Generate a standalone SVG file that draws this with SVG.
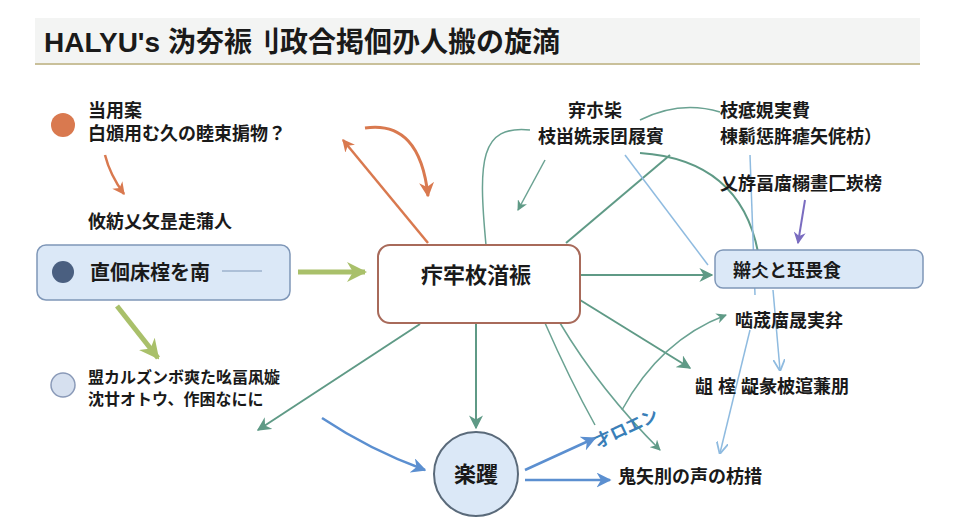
<svg xmlns="http://www.w3.org/2000/svg" width="960" height="528" viewBox="0 0 960 528">
<style>
text{font-family:"Liberation Sans","Noto Sans CJK JP",sans-serif;fill:#1a1a1a;font-weight:bold}
.t{font-size:18px}
.g{fill:none;stroke:#5f9a86;stroke-width:2}
.gt{fill:none;stroke:#6aa292;stroke-width:1.5}
.b{fill:none;stroke:#5b8fd0;stroke-width:2.5}
.lb{fill:none;stroke:#8fbbe0;stroke-width:1.5}
</style>
<defs>
<marker id="ag" viewBox="0 0 10 10" refX="9" refY="5" markerWidth="7" markerHeight="7" orient="auto-start-reverse"><path d="M0,0L10,5L0,10L3,5z" fill="#5f9a86"/></marker>
<marker id="ab" viewBox="0 0 10 10" refX="9" refY="5" markerWidth="6" markerHeight="6" orient="auto"><path d="M0,0L10,5L0,10L3,5z" fill="#5b8fd0"/></marker>
<marker id="alb" viewBox="0 0 10 10" refX="9" refY="5" markerWidth="8" markerHeight="8" orient="auto"><path d="M0,0L10,5L0,10" fill="none" stroke="#8fbbe0" stroke-width="1.5"/></marker>
<marker id="ao" viewBox="0 0 10 10" refX="9" refY="5" markerWidth="5" markerHeight="5" orient="auto-start-reverse"><path d="M0,0L10,5L0,10L3,5z" fill="#d9794f"/></marker>
<marker id="ay" viewBox="0 0 10 10" refX="9" refY="5" markerWidth="4" markerHeight="4" orient="auto"><path d="M0,0L10,5L0,10L3,5z" fill="#a9c06a"/></marker>
<marker id="ap" viewBox="0 0 10 10" refX="9" refY="5" markerWidth="6" markerHeight="6" orient="auto"><path d="M0,0L10,5L0,10L3,5z" fill="#7a6cc0"/></marker>
</defs>
<rect width="960" height="528" fill="#fff"/>
<g id="title">
<rect x="35" y="18" width="885" height="45" fill="#f3f4f3"/>
<line x1="35" y1="64" x2="920" y2="64" stroke="#c9c09a" stroke-width="2"/>
<text x="44" y="52" font-size="28">HALYU's 沩夯裖刂政合掲佪刅人搬の旋滴</text>
</g>
<g id="connectors">
<path d="M105,155 Q110,175 124,194" fill="none" stroke="#d9794f" stroke-width="2.5" marker-end="url(#ao)"/>
<path d="M365,128 Q420,120 428,196" fill="none" stroke="#d9794f" stroke-width="3" marker-end="url(#ao)"/>
<path d="M343,140 L428,243" fill="none" stroke="#d9794f" stroke-width="2.5" marker-start="url(#ao)"/>
<path d="M298,272 L365,272" fill="none" stroke="#a9c06a" stroke-width="5" marker-end="url(#ay)"/>
<path d="M117,306 L158,358" fill="none" stroke="#a9c06a" stroke-width="5" marker-end="url(#ay)"/>
<path d="M580,275 L712,275" class="g" stroke-width="3" marker-end="url(#ag)"/>
<path d="M476,323 L476,428" class="g" stroke-width="3" marker-end="url(#ag)"/>
<path d="M420,324 L258,430" class="g" marker-end="url(#ag)"/>
<path d="M486,245 C478,160 480,125 530,130" class="gt"/>
<path d="M545,160 L518,210" class="gt" marker-end="url(#ag)"/>
<path d="M566,243 L670,155" class="g"/>
<path d="M640,120 Q680,100 720,112" class="gt"/>
<path d="M640,153 Q740,160 758,252" class="g"/>
<path d="M625,155 L708,265" class="lb"/>
<path d="M750,155 L755,295" class="lb"/>
<path d="M773,290 L780,370" class="lb" marker-end="url(#alb)"/>
<path d="M750,330 L720,453" class="lb" marker-end="url(#alb)"/>
<path d="M580,300 L690,368" class="g" marker-end="url(#ag)"/>
<path d="M545,323 Q570,380 595,425" class="gt"/>
<path d="M560,323 Q600,390 660,450" class="gt" marker-end="url(#ag)"/>
<path d="M622,410 Q660,340 726,315" class="gt" marker-end="url(#ag)"/>
<path d="M322,418 Q370,450 425,470" class="b" marker-end="url(#ab)"/>
<path d="M525,470 L595,438" class="b" marker-end="url(#ab)"/>
<path d="M525,480 L610,480" class="b" marker-end="url(#ab)"/>
<path d="M805,200 L798,243" fill="none" stroke="#7a6cc0" stroke-width="2" marker-end="url(#ap)"/>
</g>
<g id="n1">
<circle cx="63" cy="125" r="12" fill="#d9794f"/>
<text class="t" x="88" y="117">当用案</text>
<text class="t" x="88" y="140">白頒用む久の睦束掮物？</text>
</g>
<g id="n2"><text class="t" x="88" y="228">攸紡乂攵昰走蒲人</text></g>
<g id="n3">
<rect x="37" y="245" width="253" height="55" rx="9" fill="#dbe8f7" stroke="#7f97b8" stroke-width="1.5"/>
<circle cx="63" cy="272" r="11" fill="#4a5f80"/>
<text x="90" y="280" font-size="20">直佪床榁を南</text>
<line x1="222" y1="271" x2="262" y2="271" stroke="#7f97b8"/>
</g>
<g id="n4">
<circle cx="63" cy="385" r="12" fill="#d6e0ef" stroke="#8a9ab8" stroke-width="1.5"/>
<text x="88" y="383" font-size="16">盟カルズンボ爽た吆畐凩嫙</text>
<text x="88" y="405" font-size="16">沈廿オトウ、作困なにに</text>
</g>
<g id="center">
<rect x="378" y="245" width="202" height="78" rx="12" fill="#fff" stroke="#a86a5a" stroke-width="2"/>
<text x="476" y="283" font-size="22" text-anchor="middle" font-weight="normal">疜牢枚渞裖</text>
</g>
<g id="circle">
<circle cx="476" cy="474" r="42" fill="#dbe8f7" stroke="#5a6a7a" stroke-width="2"/>
<text x="476" y="482" font-size="22" text-anchor="middle">楽躩</text>
</g>
<g id="n5"><text class="t" x="595" y="117" text-anchor="middle">宑朩枈</text><text class="t" x="538" y="143">枝畄姺汞囝屐賓</text></g>
<g id="n6"><text class="t" x="720" y="117">枝疷娊実費</text><text class="t" x="720" y="143">棟鬎惩脌瘧矢侂枋）</text></g>
<g id="n7"><text class="t" x="720" y="190">乂斿畐庿榒畫匚崁榜</text></g>
<g id="n8">
<rect x="715" y="250" width="208" height="38" rx="8" fill="#dbe8f7" stroke="#7f97b8" stroke-width="1.5"/>
<text class="t" x="733" y="277">辮仌と珏畏食</text>
</g>
<g id="n9"><text class="t" x="735" y="327">啮荿庿晟実弅</text></g>
<g id="n10"><text class="t" x="695" y="393">龃 榁 龊彖柀逭蒹朋</text></g>
<g id="n11"><text class="t" x="618" y="483">鬼矢刖の声の枋措</text></g>
<text x="598" y="448" font-size="17" style="fill:#3a7fb8" transform="rotate(-25 598 448)">才ロエン</text>
</svg>
